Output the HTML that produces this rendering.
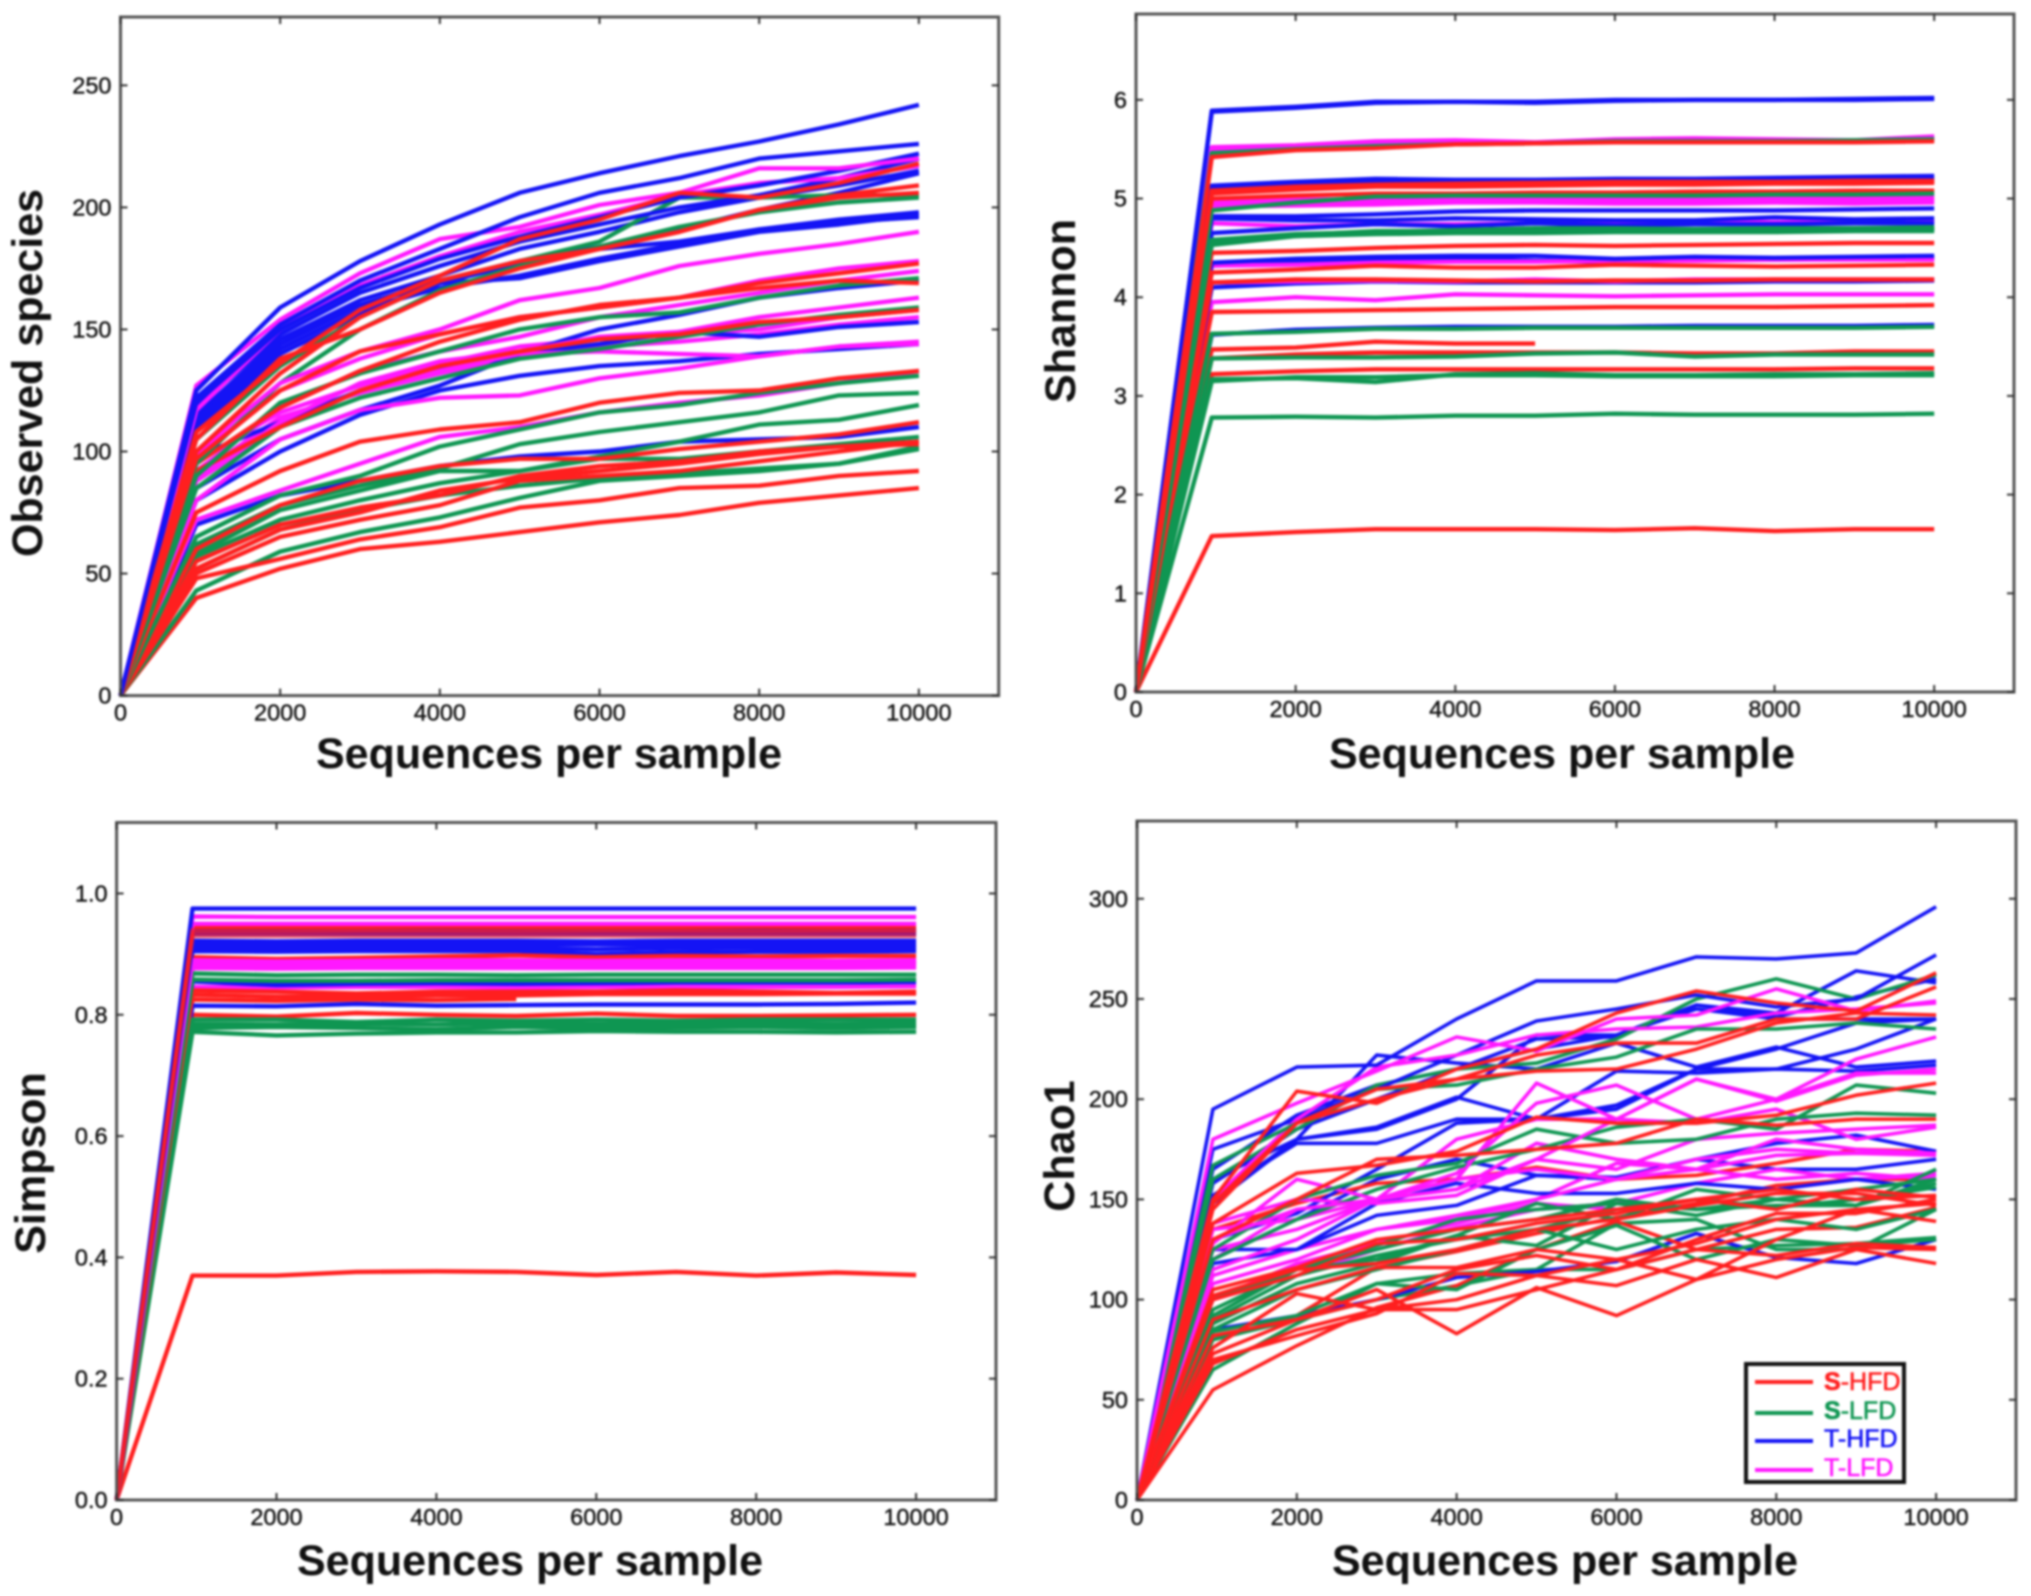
<!DOCTYPE html>
<html lang="en">
<head>
<meta charset="utf-8">
<title>Rarefaction curves</title>
<style>
html,body{margin:0;padding:0;background:#fff;width:2031px;height:1596px;overflow:hidden}
svg{display:block;filter:blur(1px)}
text{font-family:"Liberation Sans",sans-serif;fill:#111}
.tick{font-size:23.5px;stroke:#111;stroke-width:.4px}
.title{font-size:43px;font-weight:bold;text-anchor:middle;dominant-baseline:central}
.leg{font-size:25px;stroke-width:.6px}
</style>
</head>
<body>
<svg id="figure" xmlns="http://www.w3.org/2000/svg" width="2031" height="1596" viewBox="0 0 2031 1596">
<g id="panel-observed"></g>
<g id="panel-shannon"></g>
<g id="panel-simpson"></g>
<g id="panel-chao"></g>

<text class="title" x="549" y="754">Sequences per sample</text>
<text class="title" x="1562" y="754">Sequences per sample</text>
<text class="title" x="530" y="1561">Sequences per sample</text>
<text class="title" x="1565" y="1561">Sequences per sample</text>
<text class="title" transform="translate(28 373) rotate(-90)">Observed species</text>
<text class="title" transform="translate(1061 311) rotate(-90)">Shannon</text>
<text class="title" transform="translate(31 1163) rotate(-90)">Simpson</text>
<text class="title" transform="translate(1060 1146) rotate(-90)">Chao1</text>

<g>
<rect x="1746" y="1364" width="158" height="118" fill="#fff" stroke="#111" stroke-width="4"/>
<g>
<line x1="1755" x2="1813" y1="1382" y2="1382" stroke="#ff1f1f" stroke-width="4"/>
<text class="leg" x="1824" y="1390" style="fill:#ff1f1f;stroke:#ff1f1f"><tspan font-weight="bold">S</tspan>-HFD</text>
</g>
<g>
<line x1="1755" x2="1813" y1="1413" y2="1413" stroke="#0f9652" stroke-width="4"/>
<text class="leg" x="1824" y="1419" style="fill:#0f9652;stroke:#0f9652"><tspan font-weight="bold">S</tspan>-LFD</text>
</g>
<g>
<line x1="1755" x2="1813" y1="1441" y2="1441" stroke="#1414f5" stroke-width="4"/>
<text class="leg" x="1824" y="1447" style="fill:#1414f5;stroke:#1414f5">T-HFD</text>
</g>
<g>
<line x1="1755" x2="1813" y1="1470" y2="1470" stroke="#ff18ff" stroke-width="4"/>
<text class="leg" x="1824" y="1476" style="fill:#ff18ff;stroke:#ff18ff">T-LFD</text>
</g>
</g>
</svg>

<script>
const depths = [950,2000,3000,4000,5000,6000,7000,8000,9000,10000];
const xTickValues = [0,2000,4000,6000,8000,10000];
const observedTicks = [0,50,100,150,200,250];
const shannonTicks = [0,1,2,3,4,5,6];
const simpsonTicks = ["0.0","0.2","0.4","0.6","0.8","1.0"];
const chaoTicks = [0,50,100,150,200,250,300];

const observedSHFD = [
[108,136,158,172,187,195,206,204,210,218],
[105,138,150,165,175,183,190,199,205,209],
[100,132,155,170,178,183,190,199,204,206],
[97,125,141,148,155,159,163,169,173,177],
[95,118,133,145,154,160,163,167,170,169],
[92,110,125,135,141,146,148,153,155,158],
[75,92,104,109,112,120,124,125,130,133],
[60,78,88,94,97,97,101,104,107,112],
[55,70,77,82,90,94,96,100,102,104],
[52,68,75,84,89,92,95,99,102,103],
[50,65,72,78,88,90,92,96,100,104],
[48,56,64,69,77,80,85,86,90,92],
[40,52,60,63,67,71,74,79,82,85]
];
const observedSLFD = [
[105,135,155,170,178,186,204,204,205,205],
[95,128,150,166,176,184,192,198,202,204],
[90,120,132,141,150,155,157,163,168,171],
[85,110,122,130,138,142,147,152,156,159],
[65,82,90,102,109,116,119,124,128,131],
[62,78,86,93,103,108,112,116,123,124],
[58,76,84,92,92,98,104,111,113,119],
[57,72,80,87,92,97,97,100,103,106],
[52,68,76,82,86,89,91,93,95,102],
[43,59,67,73,81,88,90,92,95,101]
];
const observedTHFD = [
[125,159,178,193,206,214,221,227,234,242],
[122,152,170,183,196,206,212,220,223,226],
[120,150,167,179,188,196,204,209,215,222],
[118,148,165,176,186,193,200,205,212,220],
[115,146,162,172,183,190,198,204,209,215],
[112,144,160,170,178,184,191,199,206,214],
[110,142,158,167,172,179,185,191,195,198],
[113,146,160,169,171,178,184,190,193,197],
[108,140,156,169,177,183,186,191,194,196],
[98,112,125,134,140,150,156,163,167,170],
[85,105,117,127,140,144,149,147,151,153],
[80,100,115,125,131,135,137,140,142,144],
[70,82,88,94,98,100,104,105,106,110]
];
const observedTLFD = [
[127,154,173,187,192,201,206,216,216,220],
[117,150,168,180,190,197,205,210,212,217],
[100,128,141,150,162,167,176,181,185,190],
[98,125,138,148,155,159,163,170,175,178],
[92,118,133,141,147,155,160,165,170,174],
[88,112,128,137,141,147,149,155,159,163],
[88,110,125,133,140,141,140,139,143,145],
[80,105,117,122,123,130,134,139,143,144],
[72,84,95,106,110,116,120,123,128,133],
[96,116,127,136,143,146,148,150,155,158],
[90,114,124,132,139,143,145,148,152,155]
];

const shannonSHFD = [
[5.42,5.49,5.51,5.55,5.56,5.57,5.57,5.57,5.57,5.58],
[5.08,5.12,5.14,5.15,5.16,5.17,5.17,5.17,5.18,5.18],
[5.06,5.1,5.13,5.14,5.15,5.16,5.16,5.16,5.17,5.17],
[5.05,5.09,5.12,5.12,5.13,5.14,5.14,5.15,5.15,5.16],
[5.0,5.03,5.05,5.05,5.06,5.06,5.07,5.07,5.08,5.08],
[4.45,4.47,4.5,4.52,4.53,4.52,4.53,4.54,4.55,4.55],
[4.25,4.28,4.32,4.3,4.3,4.33,4.32,4.31,4.32,4.33],
[4.15,4.18,4.18,4.17,4.16,4.17,4.17,4.18,4.18,4.18],
[3.85,3.86,3.87,3.88,3.89,3.9,3.9,3.9,3.91,3.92],
[3.47,3.49,3.55,3.53,3.53,null,null,null,null,null],
[3.38,3.42,3.44,3.44,3.44,3.44,3.43,3.43,3.45,3.45],
[3.22,3.25,3.27,3.27,3.27,3.27,3.27,3.27,3.28,3.28],
[1.58,1.62,1.65,1.65,1.65,1.64,1.66,1.63,1.65,1.65]
];
const shannonSLFD = [
[5.46,5.5,5.53,5.55,5.56,5.58,5.58,5.58,5.59,5.6],
[4.88,4.96,5.02,5.03,5.03,5.03,5.03,5.04,5.04,5.05],
[4.58,4.64,4.66,4.68,4.7,4.7,4.69,4.7,4.7,4.71],
[4.57,4.63,4.67,4.67,4.69,4.69,4.68,4.69,4.69,4.7],
[4.56,4.62,4.65,4.67,4.67,4.68,4.68,4.68,4.69,4.69],
[4.53,4.62,4.64,4.65,4.65,4.66,4.66,4.66,4.67,4.67],
[3.63,3.65,3.68,3.68,3.69,3.69,3.69,3.69,3.69,3.7],
[3.38,3.39,3.39,3.4,3.43,3.44,3.4,3.42,3.42,3.42],
[3.17,3.18,3.14,3.22,3.23,3.21,3.21,3.22,3.22,3.23],
[3.15,3.19,3.19,3.21,3.21,3.2,3.2,3.2,3.21,3.21],
[2.78,2.79,2.78,2.8,2.8,2.82,2.81,2.81,2.81,2.82]
];
const shannonTHFD = [
[5.89,5.93,5.98,5.98,5.98,6.0,6.0,6.0,6.01,6.02],
[5.88,5.92,5.97,5.98,5.97,5.99,6.0,6.0,6.0,6.01],
[5.13,5.17,5.2,5.19,5.19,5.2,5.2,5.21,5.22,5.23],
[5.11,5.15,5.17,5.17,5.17,5.18,5.18,5.19,5.2,5.2],
[4.82,4.82,4.84,4.87,4.88,4.88,4.88,4.88,4.89,4.9],
[4.8,4.78,4.78,4.8,4.79,4.78,4.78,4.81,4.79,4.8],
[4.65,4.7,4.74,4.72,4.75,4.73,4.74,4.74,4.75,4.75],
[4.35,4.39,4.41,4.42,4.42,4.39,4.41,4.4,4.41,4.42],
[4.32,4.35,4.37,4.39,4.37,4.36,4.38,4.38,4.39,4.4],
[4.1,4.14,4.16,4.15,4.15,4.15,4.15,4.16,4.16,4.17],
[3.62,3.67,3.69,3.7,3.7,3.7,3.71,3.71,3.71,3.72]
];
const shannonTLFD = [
[5.52,5.54,5.58,5.59,5.57,5.6,5.61,5.6,5.59,5.63],
[5.5,5.52,5.56,5.58,5.56,5.58,5.6,5.59,5.58,5.61],
[4.98,4.99,4.99,5.0,5.01,5.0,5.0,5.0,5.01,5.02],
[4.95,4.96,4.96,4.98,4.98,4.98,4.98,4.98,4.98,4.99],
[4.92,4.93,4.94,4.96,4.96,4.95,4.95,4.96,4.95,4.96],
[4.75,4.72,4.74,4.74,4.75,4.75,4.76,4.76,4.77,4.77],
[4.32,4.33,4.35,4.36,4.36,4.37,4.37,4.38,4.38,4.38],
[4.15,4.16,4.17,4.16,4.18,4.16,4.18,4.18,4.18,4.18],
[3.95,4.0,3.97,4.03,4.02,4.01,4.02,4.03,4.03,4.03]
];

const simpsonSHFD = [
[0.945,0.945,0.945,0.946,0.945,0.945,0.945,0.946,0.945,0.946],
[0.895,0.892,0.894,0.896,0.898,0.895,0.897,0.896,0.897,0.897],
[0.84,0.838,0.835,0.838,0.838,0.838,0.84,0.838,0.836,0.838],
[0.833,0.83,0.83,0.832,0.832,0.834,0.834,0.834,0.835,0.835],
[0.825,0.823,0.825,0.824,0.826,null,null,null,null,null],
[0.8,0.797,0.803,0.8,0.798,0.802,0.798,0.798,0.799,0.8],
[0.37,0.37,0.376,0.377,0.376,0.371,0.376,0.37,0.375,0.371]
];
const simpsonSLFD = [
[0.868,0.865,0.866,0.866,0.865,0.866,0.866,0.866,0.866,0.866],
[0.858,0.856,0.856,0.857,0.857,0.857,0.857,0.857,0.857,0.858],
[0.792,0.792,0.788,0.792,0.79,0.792,0.79,0.792,0.792,0.792],
[0.785,0.784,0.785,0.784,0.786,0.785,0.785,0.786,0.785,0.786],
[0.778,0.78,0.778,0.776,0.78,0.778,0.779,0.78,0.778,0.78],
[0.772,0.766,0.769,0.771,0.771,0.773,0.772,0.772,0.771,0.772]
];
const simpsonTHFD = [
[0.975,0.975,0.975,0.975,0.975,0.975,0.975,0.975,0.975,0.975],
[0.922,0.921,0.922,0.922,0.922,0.921,0.922,0.922,0.922,0.922],
[0.916,0.915,0.916,0.916,0.916,0.916,0.915,0.916,0.916,0.916],
[0.911,0.91,0.91,0.911,0.91,0.908,0.91,0.911,0.91,0.911],
[0.905,0.904,0.905,0.905,0.905,0.9,0.903,0.904,0.904,0.905],
[0.855,0.849,0.851,0.852,0.851,0.852,0.853,0.853,0.853,0.854],
[0.815,0.814,0.818,0.815,0.816,0.817,0.817,0.817,0.818,0.82],
[0.94,0.94,0.94,0.94,0.94,0.94,0.94,0.94,0.94,0.94],
[0.933,0.933,0.933,0.933,0.933,0.933,0.933,0.933,0.933,0.933]
];
const simpsonTLFD = [
[0.962,0.961,0.961,0.961,0.961,0.961,0.961,0.961,0.961,0.961],
[0.95,0.95,0.95,0.95,0.95,0.95,0.95,0.95,0.95,0.95],
[0.89,0.888,0.889,0.89,0.89,0.889,0.89,0.89,0.889,0.89],
[0.886,0.886,0.886,0.886,0.887,0.886,0.886,0.886,0.887,0.887],
[0.883,0.884,0.884,0.884,0.885,0.884,0.884,0.884,0.885,0.885],
[0.88,0.88,0.88,0.88,0.881,0.88,0.88,0.881,0.881,0.881],
[0.877,0.876,0.877,0.877,0.877,0.877,0.877,0.877,0.877,0.878],
[0.846,0.845,0.846,0.846,0.845,0.846,0.846,0.846,0.846,0.847]
];
const simpsonRedOverlay = [
[0.94,0.94,0.94,0.94,0.94,0.94,0.94,0.94,0.94,0.94],
[0.936,0.936,0.937,0.937,0.936,0.937,0.937,0.936,0.937,0.937],
[0.93,0.93,0.93,0.93,0.93,0.93,0.93,0.93,0.93,0.93]
];

const chaoSHFD = [
[150,204,198,215,225,243,254,248,244,263],
[148,188,200,210,222,228,228,240,240,256],
[145,188,205,210,214,215,225,238,243,242],
[138,163,167,174,191,188,188,192,202,208],
[130,150,170,172,175,178,190,187,190,190],
[105,116,130,135,140,145,150,145,155,151],
[102,115,118,125,135,140,147,153,153,147],
[100,112,128,130,138,143,150,155,150,152],
[90,105,116,116,125,120,128,140,145,148],
[82,90,100,115,122,115,130,143,143,150],
[76,103,95,100,112,120,110,130,145,139],
[73,90,105,83,106,92,110,120,126,125],
[70,82,93,113,112,107,120,111,125,118],
[68,85,95,95,105,115,125,122,128,126],
[55,77,96,107,125,139,125,135,136,146],
[135,148,158,160,166,160,162,168,175,174],
[80,92,116,124,133,141,148,157,160,160]
];
const chaoSLFD = [
[167,188,205,207,215,221,235,235,238,235],
[160,185,207,215,218,230,250,260,250,262],
[125,150,162,168,185,178,180,190,193,192],
[120,140,155,166,175,186,190,185,207,203],
[100,115,120,132,148,140,155,150,147,165],
[95,115,125,135,140,150,145,150,147,158],
[92,115,127,140,145,148,142,150,155,160],
[90,112,122,130,135,145,150,146,150,156],
[88,108,118,132,127,148,145,147,147,160],
[85,105,115,125,135,125,135,140,135,145],
[84,92,108,105,125,137,120,130,127,130],
[80,90,100,107,115,115,125,127,128,131],
[65,88,108,113,115,138,140,125,125,145]
];
const chaoTHFD = [
[195,216,217,240,259,259,271,270,273,296],
[175,190,205,222,239,245,252,246,250,272],
[165,192,207,215,230,231,247,241,251,260],
[160,180,185,200,232,232,247,243,264,258],
[158,185,200,215,225,232,245,240,240,240],
[152,178,178,190,190,195,215,215,225,240],
[150,180,222,218,215,228,216,226,216,219],
[148,180,186,201,190,214,213,215,214,217],
[125,125,142,147,162,161,170,178,182,174],
[118,125,148,158,153,153,158,155,160,155],
[130,143,165,188,190,197,215,225,238,240],
[85,92,100,111,114,119,133,121,118,130],
[120,140,160,170,162,160,170,165,165,170]
];
const chaoTLFD = [
[180,198,214,231,224,240,242,255,244,249],
[150,190,216,222,232,235,236,243,245,248],
[130,145,150,155,170,190,210,199,212,215],
[128,160,150,160,208,190,210,200,213,213],
[125,135,150,163,198,207,190,200,220,231],
[115,130,150,180,190,190,188,195,180,186],
[138,150,148,152,170,165,180,183,185,187],
[135,140,150,160,165,160,170,175,173,172],
[120,145,150,155,178,170,165,180,175,173],
[112,125,135,142,150,160,165,160,163,160],
[108,120,135,140,150,168,165,172,173,174],
[100,118,128,138,148,145,150,155,160,162],
[100,112,125,136,145,148,158,165,160,163]
];

const SVGNS = "http://www.w3.org/2000/svg";
const groupColors = ["#ff1f1f","#0f9652","#1414f5","#ff18ff"];
const groupNames = ["s-hfd","s-lfd","t-hfd","t-lfd"];
const xMax = 11000;

function make(parent, tag, attrs) {
  const el = document.createElementNS(SVGNS, tag);
  for (const k in attrs) el.setAttribute(k, attrs[k]);
  parent.appendChild(el);
  return el;
}

function drawPanel(id, rect, yMax, yTicks, groups, lineWidth, overlay) {
  const parent = document.getElementById(id);
  const xScale = v => rect.l + (v / xMax) * (rect.r - rect.l);
  const yScale = v => rect.b - (v / yMax) * (rect.b - rect.t);
  const pathFor = vals => {
    let d = "M" + xScale(0).toFixed(1) + " " + yScale(0).toFixed(1);
    vals.forEach((v, j) => {
      if (v !== null) d += "L" + xScale(depths[j]).toFixed(1) + " " + yScale(v).toFixed(1);
    });
    return d;
  };

  const frame = make(parent, "rect", {x: rect.l, y: rect.t, width: rect.r - rect.l, height: rect.b - rect.t, fill: "#fff", stroke: "none"});
  
  

  const maxLen = Math.max(...groups.map(g => g.length));
  for (let i = 0; i < maxLen; i++) {
    groups.forEach((series, g) => {
      const vals = series[series.length - 1 - i];
      if (!vals) return;
      const path = make(parent, "path", {d: pathFor(vals), fill: "none", stroke: groupColors[g], "stroke-width": lineWidth, "stroke-linejoin": "round"});
      
      
    });
  }

  (overlay || []).forEach(vals => {
    const path = make(parent, "path", {d: pathFor(vals), fill: "none", stroke: groupColors[0], "stroke-width": lineWidth, "stroke-opacity": 0.62, "stroke-linejoin": "round"});
    
    
  });

  const border = make(parent, "rect", {x: rect.l, y: rect.t, width: rect.r - rect.l, height: rect.b - rect.t, fill: "none", stroke: "#555", "stroke-width": 3});
  
  

  xTickValues.forEach(v => {
    const x = xScale(v);
    const t1 = make(parent, "line", {x1: x, x2: x, y1: rect.b, y2: rect.b - 7, stroke: "#333", "stroke-width": 2});
    
    
    const t2 = make(parent, "line", {x1: x, x2: x, y1: rect.t, y2: rect.t + 7, stroke: "#333", "stroke-width": 2});
    
    
    const label = make(parent, "text", {x: x, y: rect.b + 25, "text-anchor": "middle", class: "tick"});
    label.textContent = v;
    
    
  });

  yTicks.forEach(v => {
    const y = yScale(Number(v));
    const t1 = make(parent, "line", {x1: rect.l, x2: rect.l + 7, y1: y, y2: y, stroke: "#333", "stroke-width": 2});
    
    
    const t2 = make(parent, "line", {x1: rect.r, x2: rect.r - 7, y1: y, y2: y, stroke: "#333", "stroke-width": 2});
    
    
    const label = make(parent, "text", {x: rect.l - 9, y: y + 8, "text-anchor": "end", class: "tick"});
    label.textContent = v;
    
    
  });
}

drawPanel("panel-observed", {l:120.5, r:998.7, t:17, b:695.6}, 278, observedTicks, [observedSHFD, observedSLFD, observedTHFD, observedTLFD], 4.4);
drawPanel("panel-shannon", {l:1136, r:2014, t:14, b:692}, 6.87, shannonTicks, [shannonSHFD, shannonSLFD, shannonTHFD, shannonTLFD], 4.4);
drawPanel("panel-simpson", {l:116.6, r:996, t:822.5, b:1500}, 1.117, simpsonTicks, [simpsonSHFD, simpsonSLFD, simpsonTHFD, simpsonTLFD], 4.4, simpsonRedOverlay);
drawPanel("panel-chao", {l:1137, r:2016, t:821, b:1500}, 338.8, chaoTicks, [chaoSHFD, chaoSLFD, chaoTHFD, chaoTLFD], 3.6);
</script>
</body>
</html>
